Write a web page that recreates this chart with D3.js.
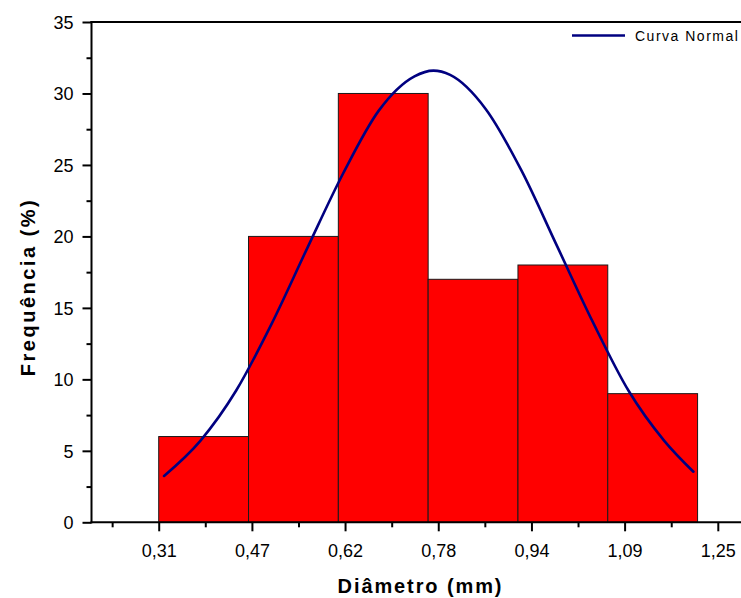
<!DOCTYPE html>
<html>
<head>
<meta charset="utf-8">
<script src="https://cdn.jsdelivr.net/npm/d3@7"></script>
<style>
  html, body { margin: 0; padding: 0; background: #fff; }
  svg { display: block; }
  text { font-family: Arial, "Liberation Sans", sans-serif; fill: #000; }
</style>
</head>
<body>
<svg id="chart" width="741" height="598"></svg>
<script>
// Histogram bins (diameter, mm) and frequency (%)
const binEdges = [0.31, 0.461, 0.612, 0.763, 0.914, 1.065, 1.216];
const frequencies = [6, 20, 30, 17, 18, 9];

// Fitted normal curve, sampled points (diameter, frequency %)
const curveX = [0.319, 0.38, 0.44, 0.50, 0.56, 0.62, 0.68, 0.74, 0.772,
                0.80, 0.86, 0.92, 0.98, 1.04, 1.10, 1.16, 1.209];
const curveY = [3.24, 5.7, 9.2, 13.9, 19.2, 24.4, 28.8, 31.2, 31.6,
                31.3, 28.9, 24.6, 19.3, 14.0, 9.2, 5.7, 3.54];

// Axis ticks
const xTickValues = [0.31, 0.4667, 0.6233, 0.78, 0.9367, 1.0933, 1.25];
const xTickLabels = ["0,31", "0,47", "0,62", "0,78", "0,94", "1,09", "1,25"];
const xMinorTicks = [0.2317, 0.3883, 0.545, 0.7017, 0.8583, 1.015, 1.1717];
const yTickValues = [0, 5, 10, 15, 20, 25, 30, 35];
const yMinorTicks = [2.5, 7.5, 12.5, 17.5, 22.5, 27.5, 32.5];

const seriesName = "Curva Normal";
const xTitle = "Diâmetro (mm)";
const yTitle = "Frequência (%)";

const svg = d3.select("#chart");
const plot = { left: 91.5, right: 741, top: 22, bottom: 522.3 };

const x = d3.scaleLinear().domain([0.197, 1.289]).range([plot.left, plot.right]);
const y = d3.scaleLinear().domain([0, 35]).range([plot.bottom, plot.top]);

// Bars
svg.append("g").selectAll("rect")
  .data(frequencies)
  .join("rect")
  .attr("x", (d, i) => x(binEdges[i]))
  .attr("width", (d, i) => x(binEdges[i + 1]) - x(binEdges[i]))
  .attr("y", d => y(d))
  .attr("height", d => y(0) - y(d))
  .attr("fill", "#ff0000")
  .attr("stroke", "#1a1a1a")
  .attr("stroke-width", 1);

// Normal curve
const pts = curveX.map((v, i) => [v, curveY[i]]);
svg.append("path")
  .datum(pts)
  .attr("fill", "none")
  .attr("stroke", "#000080")
  .attr("stroke-width", 2.6)
  .attr("stroke-linecap", "round")
  .attr("d", d3.line().x(d => x(d[0])).y(d => y(d[1])).curve(d3.curveMonotoneX));

// Frame top line
svg.append("line")
  .attr("x1", plot.left - 1).attr("x2", plot.right)
  .attr("y1", plot.top).attr("y2", plot.top)
  .attr("stroke", "#000").attr("stroke-width", 2);

function styleAxis(g) {
  g.select(".domain").remove();
  g.selectAll(".tick line").attr("stroke", "#000").attr("stroke-width", 2);
  g.selectAll(".tick text").style("font-size", "18px").style("font-family", "Arial, 'Liberation Sans', sans-serif");
}

// Y axis
const gy = svg.append("g").attr("transform", `translate(${plot.left},0)`)
  .call(d3.axisLeft(y).tickValues(yTickValues).tickSize(9).tickPadding(9).tickFormat(d3.format("d")));
styleAxis(gy);
gy.selectAll(".tick text").attr("dy", "0.36em");
const gyMinor = svg.append("g").attr("transform", `translate(${plot.left},0)`)
  .call(d3.axisLeft(y).tickValues(yMinorTicks).tickSize(5).tickFormat(""));
styleAxis(gyMinor);

// X axis
const gx = svg.append("g").attr("transform", `translate(0,${plot.bottom})`)
  .call(d3.axisBottom(x).tickValues(xTickValues).tickSize(9).tickPadding(10)
    .tickFormat((d, i) => xTickLabels[i]));
styleAxis(gx);
gx.selectAll(".tick text").attr("dy", "0.9em");
const gxMinor = svg.append("g").attr("transform", `translate(0,${plot.bottom})`)
  .call(d3.axisBottom(x).tickValues(xMinorTicks).tickSize(5).tickFormat(""));
styleAxis(gxMinor);

// Axis lines
svg.append("line").attr("x1", plot.left).attr("x2", plot.left).attr("y1", plot.top - 1).attr("y2", plot.bottom + 1)
  .attr("stroke", "#000").attr("stroke-width", 2);
svg.append("line").attr("x1", plot.left - 1).attr("x2", plot.right).attr("y1", plot.bottom).attr("y2", plot.bottom)
  .attr("stroke", "#000").attr("stroke-width", 2);

// Axis titles
svg.append("text")
  .attr("x", 420.5).attr("y", 593)
  .attr("text-anchor", "middle")
  .style("font-size", "20px").style("font-weight", "bold").style("letter-spacing", "1.9px")
  .text(xTitle);

svg.append("text")
  .attr("transform", "translate(35,287) rotate(-90)")
  .attr("text-anchor", "middle")
  .style("font-size", "20px").style("font-weight", "bold").style("letter-spacing", "2.5px")
  .text(yTitle);

// Legend
svg.append("line")
  .attr("x1", 572).attr("x2", 625).attr("y1", 35.5).attr("y2", 35.5)
  .attr("stroke", "#000080").attr("stroke-width", 2.6);
svg.append("text")
  .attr("x", 635).attr("y", 40.5)
  .style("font-size", "14px").style("letter-spacing", "1.5px")
  .text(seriesName);
</script>
</body>
</html>
